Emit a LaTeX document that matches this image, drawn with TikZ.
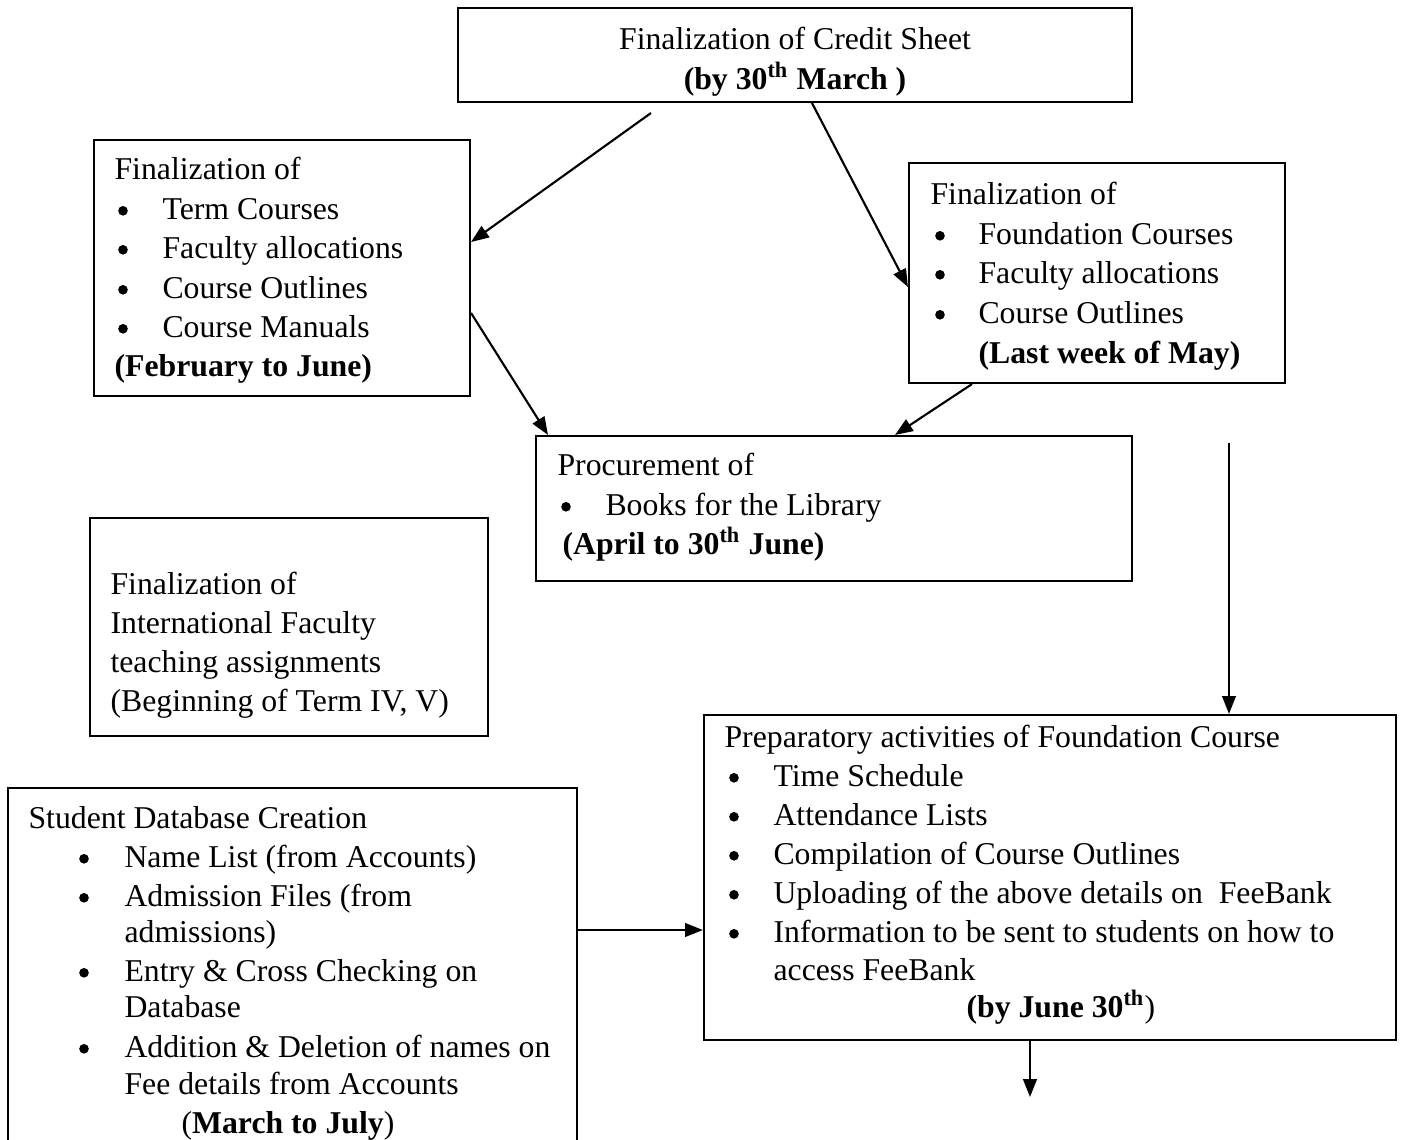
\documentclass[tikz,border=0pt]{standalone}
\usepackage{fontspec}
\setmainfont{Liberation Serif}
\usetikzlibrary{arrows.meta,fit}
\begin{document}
\begin{tikzpicture}[x=0.3528pt,y=-0.3528pt,
  box/.style={draw,line width=0.75pt,inner sep=0pt,rectangle},
  txt/.style={anchor=base west,inner sep=0pt,font=\fontsize{11.2}{13}\selectfont},
  ctxt/.style={anchor=base,inner sep=0pt,font=\fontsize{11.2}{13}\selectfont},
  bul/.style={circle,fill,inner sep=0pt,minimum size=3.4pt,yshift=2.9pt},
  arr/.style={line width=0.75pt,-{Triangle[length=6.3pt,width=4.8pt]}}]
\useasboundingbox[fill=white] (0,0) rectangle (1416,1140);

% boxes
\node[box,fit={(458,8) (1132,102)}] (credit) {};
\node[box,fit={(94,140) (470,396)}] (term) {};
\node[box,fit={(909,163) (1285,383)}] (found) {};
\node[box,fit={(536,436) (1132,581)}] (proc) {};
\node[box,fit={(90,518) (488,736)}] (intl) {};
\node[box,fit={(704,715) (1396,1040)}] (prep) {};
\node[box,fit={(8,788) (577,1160)}] (stud) {};

% credit sheet
\node[ctxt] (c1) at (795,49) {Finalization of Credit Sheet};
\node[ctxt] (c2) at (795,89) {\textbf{(by 30\textsuperscript{th} March )}};

% term courses
\node[txt] (t0) at (114,179) {Finalization of};
\node[bul] (tb1) at (123,219) {};
\node[txt] (t1) at (162,219) {Term Courses};
\node[bul] (tb2) at (123,258) {};
\node[txt] (t2) at (162,258) {Faculty allocations};
\node[bul] (tb3) at (123,298) {};
\node[txt] (t3) at (162,298) {Course Outlines};
\node[bul] (tb4) at (123,337) {};
\node[txt] (t4) at (162,337) {Course Manuals};
\node[txt] (t5) at (114,376) {\textbf{(February to June)}};

% foundation courses
\node[txt] (f0) at (930,204) {Finalization of};
\node[bul] (fb1) at (940,244) {};
\node[txt] (f1) at (978,244) {Foundation Courses};
\node[bul] (fb2) at (940,283) {};
\node[txt] (f2) at (978,283) {Faculty allocations};
\node[bul] (fb3) at (940,323) {};
\node[txt] (f3) at (978,323) {Course Outlines};
\node[txt] (f4) at (978,363) {\textbf{(Last week of May)}};

% procurement
\node[txt] (p0) at (557,475) {Procurement of};
\node[bul] (pb1) at (566,515) {};
\node[txt] (p1) at (605,515) {Books for the Library};
\node[txt] (p2) at (562,554) {\textbf{(April to 30\textsuperscript{th} June)}};

% international
\node[txt] (i0) at (110,594) {Finalization of};
\node[txt] (i1) at (110,633) {International Faculty};
\node[txt] (i2) at (110,672) {teaching assignments};
\node[txt] (i3) at (110,711) {(Beginning of Term IV, V)};

% preparatory
\node[txt] (r0) at (724,747) {Preparatory activities of Foundation Course};
\node[bul] (rb1) at (734,786) {};
\node[txt] (r1) at (773,786) {Time Schedule};
\node[bul] (rb2) at (734,825) {};
\node[txt] (r2) at (773,825) {Attendance Lists};
\node[bul] (rb3) at (734,864) {};
\node[txt] (r3) at (773,864) {Compilation of Course Outlines};
\node[bul] (rb4) at (734,903) {};
\node[txt] (r4) at (773,903) {Uploading of the above details on\ \ FeeBank};
\node[bul] (rb5) at (734,942) {};
\node[txt] (r5) at (773,942) {Information to be sent to students on how to};
\node[txt] (r6) at (773,980) {access FeeBank};
\node[txt] (r7) at (966,1017) {\textbf{(by June 30\textsuperscript{th}})};

% student database
\node[txt] (s0) at (28,828) {Student Database Creation};
\node[bul] (sb1) at (84,867) {};
\node[txt] (s1) at (124,867) {Name List (from Accounts)};
\node[bul] (sb2) at (84,906) {};
\node[txt] (s2) at (124,906) {Admission Files (from};
\node[txt] (s3) at (124,942) {admissions)};
\node[bul] (sb3) at (84,981) {};
\node[txt] (s4) at (124,981) {Entry \& Cross Checking on};
\node[txt] (s5) at (124,1017) {Database};
\node[bul] (sb4) at (84,1057) {};
\node[txt] (s6) at (124,1057) {Addition \& Deletion of names on};
\node[txt] (s7) at (124,1094) {Fee details from Accounts};
\node[txt] (s8) at (181,1133) {(\textbf{March to July})};

% connectors
\coordinate (a1s) at (651,113);
\coordinate (a5s) at (1229,443);
\coordinate (a7e) at (1030,1097);
\draw[arr] (a1s) -- (term.east |- 0,242);
\draw[arr] (credit.south -| 812,0) -- (found.west |- 0,287);
\draw[arr] (term.east |- 0,313) -- (proc.north -| 548,0);
\draw[arr] (found.south -| 972,0) -- (proc.north -| 895,0);
\draw[arr] (a5s) -- (prep.north -| a5s);
\draw[arr] (stud.east |- 0,930) -- (prep.west |- 0,930);
\draw[arr] (prep.south -| a7e) -- (a7e);
\end{tikzpicture}
\end{document}
